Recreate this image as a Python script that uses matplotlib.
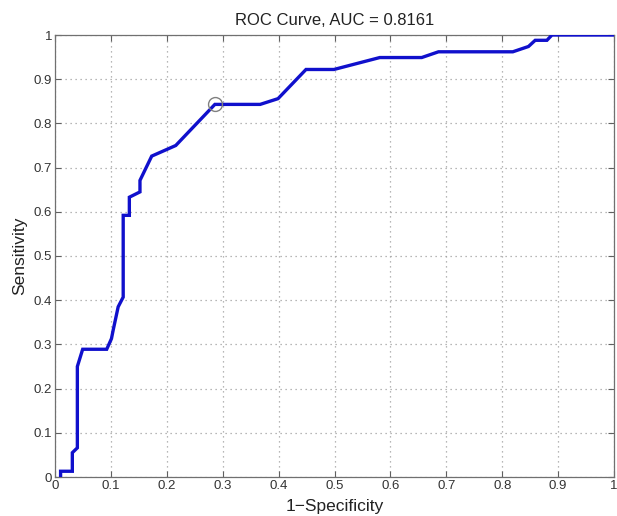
import matplotlib
matplotlib.use("Agg")
import matplotlib.pyplot as plt
import numpy as np

fpr = [0.010, 0.010, 0.031, 0.031, 0.040, 0.040, 0.0495, 0.0925, 0.101, 0.104, 0.113,
       0.122, 0.122, 0.133, 0.133, 0.152, 0.152, 0.173, 0.216, 0.286, 0.367, 0.399,
       0.449, 0.499, 0.581, 0.656, 0.686, 0.819, 0.847, 0.859, 0.880, 0.889, 1.0]
tpr = [0.0, 0.013, 0.013, 0.055, 0.066, 0.25, 0.289, 0.289, 0.313, 0.332, 0.385,
       0.407, 0.592, 0.592, 0.633, 0.645, 0.671, 0.726, 0.750, 0.843, 0.843, 0.856,
       0.922, 0.922, 0.949, 0.949, 0.962, 0.962, 0.974, 0.988, 0.988, 1.0, 1.0]
opt_point = (0.286, 0.843)
ticks = [0, 0.1, 0.2, 0.3, 0.4, 0.5, 0.6, 0.7, 0.8, 0.9, 1]
tick_labels = ["0", "0.1", "0.2", "0.3", "0.4", "0.5", "0.6", "0.7", "0.8", "0.9", "1"]

plt.rcParams['font.family'] = ['Liberation Sans', 'DejaVu Sans']

fig = plt.figure(figsize=(6.17, 5.16), dpi=100)
ax = fig.add_axes([55/617, 39/516, 559/617, 442/516])

ax.plot(fpr, tpr, color='#1010cc', linewidth=2.4, solid_joinstyle='miter', zorder=3)
ax.plot([opt_point[0]], [opt_point[1]], 'o', markersize=10, markerfacecolor='none',
        markeredgecolor='#808080', markeredgewidth=1.0, zorder=4)

ax.set_xlim(0, 1)
ax.set_ylim(0, 1)
ax.set_xticks(ticks)
ax.set_yticks(ticks)
ax.set_xticklabels(tick_labels)
ax.set_yticklabels(tick_labels)
ax.grid(True, linestyle=(0, (1, 3)), color='#a0a0a0', linewidth=0.9)
ax.tick_params(direction='in', top=True, right=True, length=4, width=0.8,
               color='#606060', labelsize=9.5, labelcolor='#333333', pad=2)
for s in ax.spines.values():
    s.set_color('#707070')
    s.set_linewidth(0.9)

ax.set_title('ROC Curve, AUC = 0.8161', fontsize=12, color='#222222', pad=7)
ax.set_xlabel('1\u2212Specificity', fontsize=12.5, color='#222222', labelpad=5)
ax.set_ylabel('Sensitivity', fontsize=12.5, color='#222222', labelpad=5)

fig.savefig('out.png', dpi=100)
